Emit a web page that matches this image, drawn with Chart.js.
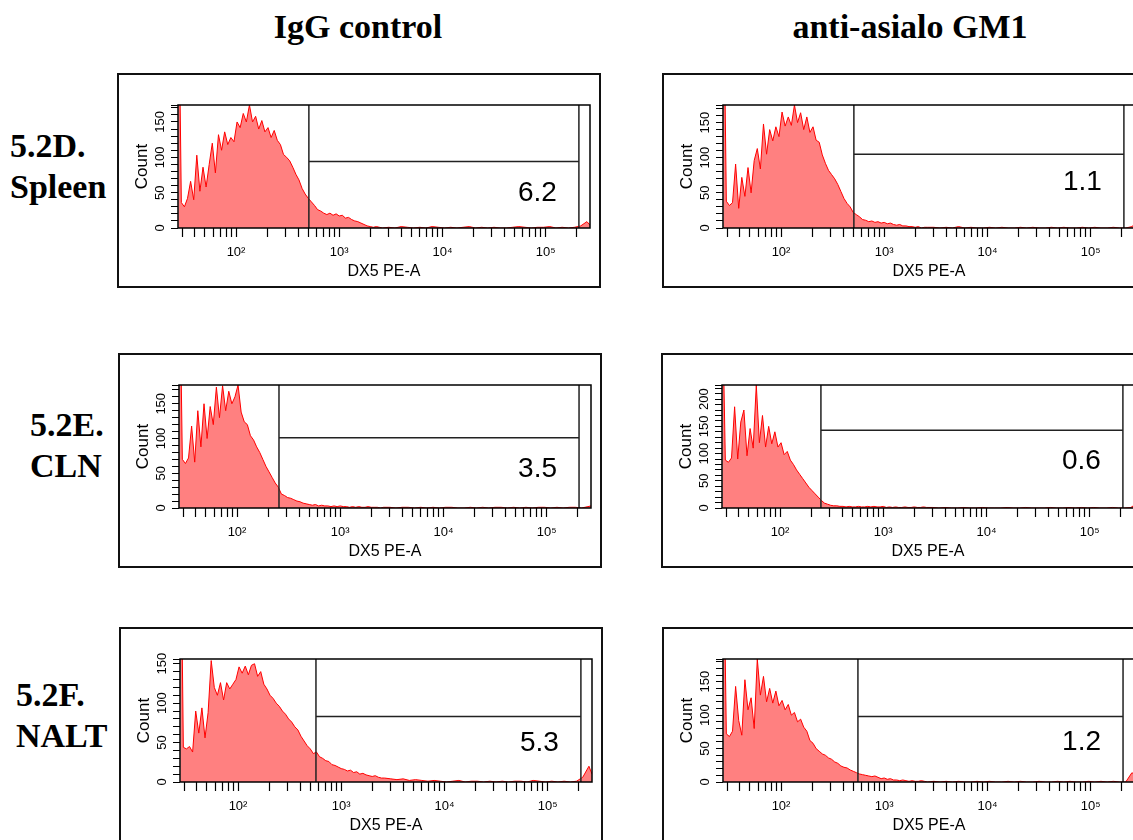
<!DOCTYPE html>
<html><head><meta charset="utf-8">
<script src="https://cdn.jsdelivr.net/npm/chart.js@4.4.1/dist/chart.umd.min.js"></script>
<style>
html,body{margin:0;padding:0;background:#fff;width:1133px;height:840px;overflow:hidden;position:relative}
.hdr{position:absolute;font-family:'Liberation Serif','Times New Roman',serif;font-weight:bold;font-size:34px;line-height:41px;white-space:nowrap;color:#000}
canvas{position:absolute}
</style></head><body>
<div class="hdr" style="left:158px;top:6px;width:400px;text-align:center">IgG control</div>
<div class="hdr" style="left:710px;top:6px;width:400px;text-align:center">anti-asialo GM1</div>
<div class="hdr" style="left:10px;top:125px">5.2D.<br>Spleen</div>
<div class="hdr" style="left:30px;top:404px">5.2E.<br>CLN</div>
<div class="hdr" style="left:16px;top:674px">5.2F.<br>NALT</div>
<script>
// bin positions (log10 of DX5 PE-A intensity)
const binLog = [1.44,1.47,1.50,1.53,1.56,1.59,1.62,1.65,1.68,1.71,
 1.74,1.77,1.80,1.83,1.86,1.89,1.92,1.95,1.98,2.01,
 2.04,2.07,2.10,2.13,2.16,2.19,2.22,2.25,2.28,2.31,
 2.34,2.37,2.40,2.43,2.46,2.49,2.52,2.55,2.58,2.61,
 2.64,2.67,2.70,2.73,2.76,2.79,2.82,2.85,2.88,2.91,
 2.94,2.97,3.00,3.03,3.06,3.09,3.12,3.15,3.18,3.21,
 3.24,3.27,3.30,3.33,3.36,3.39,3.42,
 3.48,3.54,3.60,3.66,3.72,3.78,3.84,3.90,3.96,4.02,
 4.08,4.14,4.20,4.26,4.32,4.38,4.44,4.50,4.56,4.62,
 4.68,4.74,4.80,4.86,4.92,4.98,5.04,5.10,5.16,5.22,
 5.28,5.34,5.40,5.43];

const spleenIgG = [400,36,30,42,66,40,103,52,86,58,
 90,120,78,132,110,136,118,128,122,150,
 142,162,150,174,150,158,140,152,136,142,
 128,138,124,118,104,100,95,86,76,68,
 56,48,42,37,32,26,24,21,19,21,
 18,20,17,18,14,15,12,10,9,7,
 5,3,2,1,2,1,0,
 1,0,2,1,0,1,0,2,1,0, 1,0,1,2,0,1,0,1,0,0, 1,2,1,0,1,1,2,0,1,0, 1,3,9,4];
const spleenAnti = [400,38,32,36,91,28,72,45,86,50,
 96,113,84,148,105,140,124,144,130,165,
 145,158,146,175,150,164,140,158,136,144,
 125,122,104,92,82,76,70,62,52,42,
 35,30,22,19,16,12,11,9,10,8,
 9,7,8,6,7,5,4,5,3,3,
 2,2,1,2,0,1,1,
 1,0,1,0,2,0,1,0,0,1, 0,1,0,0,1,0,1,0,0,1, 0,1,0,0,1,0,1,0,0,1, 0,0,2,6];
const clnIgG = [400,70,64,72,118,66,140,88,150,100,
 146,120,174,130,176,140,168,150,160,177,
 138,124,120,104,98,88,80,70,60,52,
 44,36,30,20,18,15,14,12,10,9,
 7,6,5,4,5,3,4,3,3,2,
 3,2,3,2,2,1,2,1,2,1,
 1,2,1,1,1,0,1,
 1,0,1,1,0,1,0,1,0,1, 1,0,0,1,0,1,0,1,1,0, 1,0,1,0,1,1,0,1,0,1, 1,0,2,3];
const clnAnti = [400,88,84,92,186,90,158,180,96,146,
 110,226,120,170,112,150,118,140,112,120,
 98,104,88,80,70,62,54,46,38,32,
 26,20,14,9,7,5,4,4,3,3,
 2,3,2,2,3,2,2,3,2,3,
 2,2,3,1,2,1,2,1,1,2,
 1,1,2,1,1,2,1,
 1,0,1,0,0,1,0,0,1,0, 0,0,1,0,0,1,0,0,0,1, 0,0,1,0,1,0,1,0,0,1, 0,0,1,5];
const naltIgG = [400,44,42,45,38,90,62,94,56,88,
 154,120,110,126,104,126,118,124,130,146,
 138,147,136,148,150,134,140,124,118,110,
 106,100,96,90,86,80,76,70,66,58,
 52,46,42,36,38,32,30,27,26,22,
 21,19,17,16,14,15,12,13,10,11,
 9,8,7,8,6,5,5,
 4,3,4,2,3,2,1,2,1,0, 1,2,0,1,1,0,1,0,1,0, 1,1,0,2,1,0,1,0,1,0, 1,6,20,10];
const naltAnti = [400,72,68,76,143,92,70,153,108,126,
 80,184,130,158,120,140,118,136,114,122,
 108,116,100,104,90,94,82,76,62,58,
 50,46,42,40,36,34,30,28,24,22,
 21,18,16,14,12,11,10,9,8,9,
 7,5,6,4,5,3,3,2,3,2,
 1,2,1,1,2,1,0,
 1,0,1,0,1,0,0,1,0,1, 0,0,1,0,1,0,0,1,0,0, 1,0,1,0,0,1,0,1,0,1, 0,0,14,10];

const panelSeries = [spleenIgG, spleenAnti, clnIgG, clnAnti, naltIgG, naltAnti];
const yMax = [174, 175, 177, 226, 156, 184];
const gateLow = [508, 508, 255, 249, 569, 556];
const gateHigh = [210000, 210000, 206000, 210000, 210000, 206000];
const gateLevel = [94, 105, 101, 143, 83, 98];
const gateText = ['6.2', '1.1', '3.5', '0.6', '5.3', '1.2'];
const gateTextY = [49, 65, 56, 85, 49, 60];

const xTickValues = [30,40,50,60,70,80,90,100,200,300,400,500,600,700,800,900,
 1000,2000,3000,4000,5000,6000,7000,8000,9000,
 10000,20000,30000,40000,50000,60000,70000,80000,90000,
 100000,200000];
const xMajorTicks = [100, 1000, 10000, 100000];
const xMajorLabels = ['10\u00B2', '10\u00B3', '10\u2074', '10\u2075'];
const xMin = 27.4, xMax = 269000;

const panelPos = [[117,73],[662,73],[118,353],[661,353],[119,627],[662,627]];

Chart.defaults.font.family = '"Liberation Sans", Arial, Helvetica, sans-serif';
Chart.defaults.color = '#000';

function framePlugin(i) {
  return {
    id: 'frame' + i,
    afterDatasetsDraw(chart) {
      const {ctx, chartArea: a, scales} = chart;
      ctx.save();
      ctx.strokeStyle = '#000';
      ctx.lineWidth = 1.5;
      ctx.strokeRect(a.left, a.top, a.right - a.left, a.bottom - a.top);
      ctx.font = '28px "Liberation Sans", Arial, sans-serif';
      ctx.fillStyle = '#000';
      ctx.textAlign = 'right';
      ctx.textBaseline = 'middle';
      ctx.fillText(gateText[i], scales.x.getPixelForValue(gateHigh[i]) - 22, scales.y.getPixelForValue(gateTextY[i]));
      ctx.restore();
    },
    afterDraw(chart) {
      const ctx = chart.ctx;
      ctx.save();
      ctx.strokeStyle = '#111';
      ctx.lineWidth = 2;
      ctx.strokeRect(1, 1, chart.width - 2, chart.height - 2);
      ctx.restore();
    }
  };
}

panelSeries.forEach((series, i) => {
  const cv = document.createElement('canvas');
  cv.width = 484; cv.height = 215;
  cv.style.left = panelPos[i][0] + 'px';
  cv.style.top = panelPos[i][1] + 'px';
  cv.style.width = '484px'; cv.style.height = '215px';
  document.body.appendChild(cv);
  const gateData = [
    {x: gateLow[i], y: 0}, {x: gateLow[i], y: yMax[i]}, {x: gateLow[i], y: null},
    {x: gateLow[i], y: gateLevel[i]}, {x: gateHigh[i], y: gateLevel[i]}, {x: gateHigh[i], y: null},
    {x: gateHigh[i], y: 0}, {x: gateHigh[i], y: yMax[i]}
  ];
  const histData = binLog.map((lv, k) => ({x: Math.pow(10, lv), y: series[k]}));
  new Chart(cv, {
    type: 'line',
    data: {datasets: [
      {label: 'gate', data: gateData, borderColor: '#222', borderWidth: 1.5, pointRadius: 0, fill: false, spanGaps: false, order: 1},
      {label: 'DX5', data: histData, borderColor: '#ff0000', backgroundColor: '#ff8080', borderWidth: 1, pointRadius: 0, fill: 'origin', order: 2}
    ]},
    options: {
      responsive: false, animation: false, devicePixelRatio: 1,
      layout: {padding: {left: 0, top: 32, right: 11, bottom: 0}},
      plugins: {legend: {display: false}, tooltip: {enabled: false}},
      elements: {line: {tension: 0}},
      scales: {
        x: {
          type: 'logarithmic', min: xMin, max: xMax, bounds: 'data',
          afterBuildTicks: s => { s.ticks = xTickValues.map(v => ({value: v})); },
          afterFit: s => { s.height = 60; },
          grid: {display: true, drawOnChartArea: false, drawTicks: true, tickLength: 9, tickColor: '#000', tickWidth: 1.2},
          border: {display: false},
          ticks: {autoSkip: false, maxRotation: 0, minRotation: 0, padding: 8, color: '#000', font: {size: 13},
            callback: v => { const k = xMajorTicks.indexOf(v); return k >= 0 ? xMajorLabels[k] : ''; }},
          title: {display: true, text: 'DX5 PE-A', color: '#000', font: {size: 16}, padding: {top: 0, bottom: 7}}
        },
        y: {
          type: 'linear', min: 0, max: yMax[i], bounds: 'data',
          afterFit: s => { s.width = 61; },
          grid: {display: true, drawOnChartArea: false, drawTicks: true, tickLength: 7, tickColor: '#000', tickWidth: 1},
          border: {display: false},
          ticks: {stepSize: 10, includeBounds: false, autoSkip: false, minRotation: 90, maxRotation: 90, crossAlign: 'center', padding: 0,
            color: '#000', font: {size: 13}, callback: v => (v % 50 === 0 ? String(v) : '')},
          title: {display: true, text: 'Count', color: '#000', font: {size: 17}, padding: {top: 15, bottom: 0}}
        }
      }
    },
    plugins: [framePlugin(i)]
  });
});
</script>
</body></html>
